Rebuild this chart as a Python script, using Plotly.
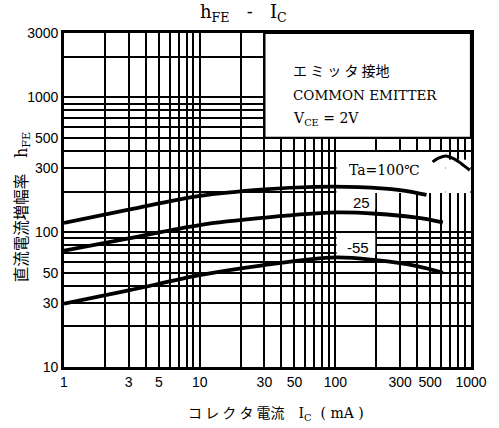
import math
import plotly.graph_objects as go

# ---- data ----
ic_100 = [1, 3, 10, 30, 70, 150, 300, 470]
hfe_100 = [117, 147, 186, 208, 217, 216, 205, 189]
ic_25 = [1, 3, 10, 30, 100, 200, 400, 620]
hfe_25 = [73, 90, 113, 128, 140, 137, 128, 118]
ic_m55 = [1, 3, 10, 30, 100, 200, 400, 620]
hfe_m55 = [29.5, 37, 48, 57, 65, 62, 56, 50]
# scan artefact next to the Ta=100 label
mark_x = [521, 580, 650, 750, 850, 980]
mark_y = [332, 355, 367, 350, 322, 288]

x_grid = [1, 2, 3, 4, 5, 6, 7, 8, 9, 10, 20, 30, 40, 50, 60, 70, 80, 90,
          100, 200, 300, 400, 500, 600, 700, 800, 900, 1000]
x_labels = [1, 3, 5, 10, 30, 50, 100, 300, 500, 1000]
y_grid = [10, 20, 30, 40, 50, 60, 70, 80, 90, 100, 200, 300, 400, 500, 600,
          700, 800, 900, 1000, 2000, 3000]
y_labels = [10, 30, 50, 100, 300, 500, 1000, 3000]

SERIF = "DejaVu Serif"
SANS = "Liberation Sans"
CJK = "Noto Sans CJK JP"

fig = go.Figure()
for xs, ys in [(ic_100, hfe_100), (ic_25, hfe_25), (ic_m55, hfe_m55)]:
    fig.add_trace(go.Scatter(x=xs, y=ys, mode="lines",
                             line=dict(color="black", width=3.8, shape="spline"),
                             showlegend=False, hoverinfo="skip"))
fig.add_trace(go.Scatter(x=mark_x, y=mark_y, mode="lines",
                         line=dict(color="black", width=3, shape="spline"),
                         showlegend=False, hoverinfo="skip"))

axis_common = dict(type="log", showgrid=True, gridcolor="black", gridwidth=1.6,
                   showline=True, linecolor="black", linewidth=2.6, mirror=True,
                   ticks="", zeroline=False,
                   tickfont=dict(family=SANS, size=14, color="black"))
fig.update_xaxes(range=[0, 3], tickvals=x_grid,
                 ticktext=[str(v) if v in x_labels else "" for v in x_grid],
                 **axis_common)
fig.update_yaxes(range=[1, math.log10(3000)], tickvals=y_grid,
                 ticktext=[str(v) if v in y_labels else "" for v in y_grid],
                 **axis_common)

white = dict(type="rect", xref="x", yref="y", fillcolor="white",
             line=dict(width=0), layer="between")
# legend box
fig.add_shape(type="rect", xref="x", yref="y", x0=30, x1=1000, y0=500, y1=3000,
              fillcolor="white", line=dict(color="black", width=2.2), layer="between")
# label backgrounds
fig.add_shape(x0=102, x1=650, y0=195, y1=393, **white)
fig.add_shape(x0=650, x1=990, y0=195, y1=345, **white)
fig.add_shape(x0=102, x1=197, y0=148, y1=200, **white)
fig.add_shape(x0=102, x1=197, y0=68, y1=97, **white)

def ann(text, x, y, size, family, xanchor="center"):
    fig.add_annotation(text=text, x=math.log10(x), y=math.log10(y), xref="x", yref="y",
                       showarrow=False, xanchor=xanchor, yanchor="middle",
                       font=dict(family=family, size=size, color="black"))

ann("エ ミ ッ タ 接地", 47, 1600, 14, CJK, xanchor="left")
ann("COMMON EMITTER", 47, 1040, 13.5, SERIF, xanchor="left")
ann("V<sub>CE</sub> = 2V", 47, 695, 14, SERIF, xanchor="left")
ann("Ta=100℃", 232, 289, 14, SERIF)
ann("25", 156, 165, 15, SANS)
ann("-55", 148, 76.5, 15, SANS)

fig.add_annotation(text="h<sub>FE</sub>   -   I<sub>C</sub>", xref="paper", yref="paper",
                   x=0.44, y=1.06, showarrow=False, xanchor="center", yanchor="middle",
                   font=dict(family=SERIF, size=18, color="black"))
fig.add_annotation(text="直流電流増幅率　<span style=\"font-family:DejaVu Serif;font-size:16px\">h<sub>FE</sub></span>",
                   xref="paper", yref="paper",
                   x=-0.107, y=0.48, textangle=-90, showarrow=False,
                   xanchor="center", yanchor="middle",
                   font=dict(family=CJK, size=15.5, color="black"))
fig.add_annotation(text="コ レ ク タ 電流　<span style=\"font-family:DejaVu Serif\">I<sub>C</sub>  ( mA )</span>",
                   xref="paper", yref="paper",
                   x=0.52, y=-0.135, showarrow=False, xanchor="center", yanchor="middle",
                   font=dict(family=CJK, size=14, color="black"))

fig.update_layout(width=499, height=428, margin=dict(l=64, r=23, t=33, b=61),
                  paper_bgcolor="white", plot_bgcolor="white", showlegend=False)
# remove the browser's default 8px page margin so the figure fills the window
fig.write_html("out.html", config={"displayModeBar": False},
               post_script="document.body.style.margin='0';")
